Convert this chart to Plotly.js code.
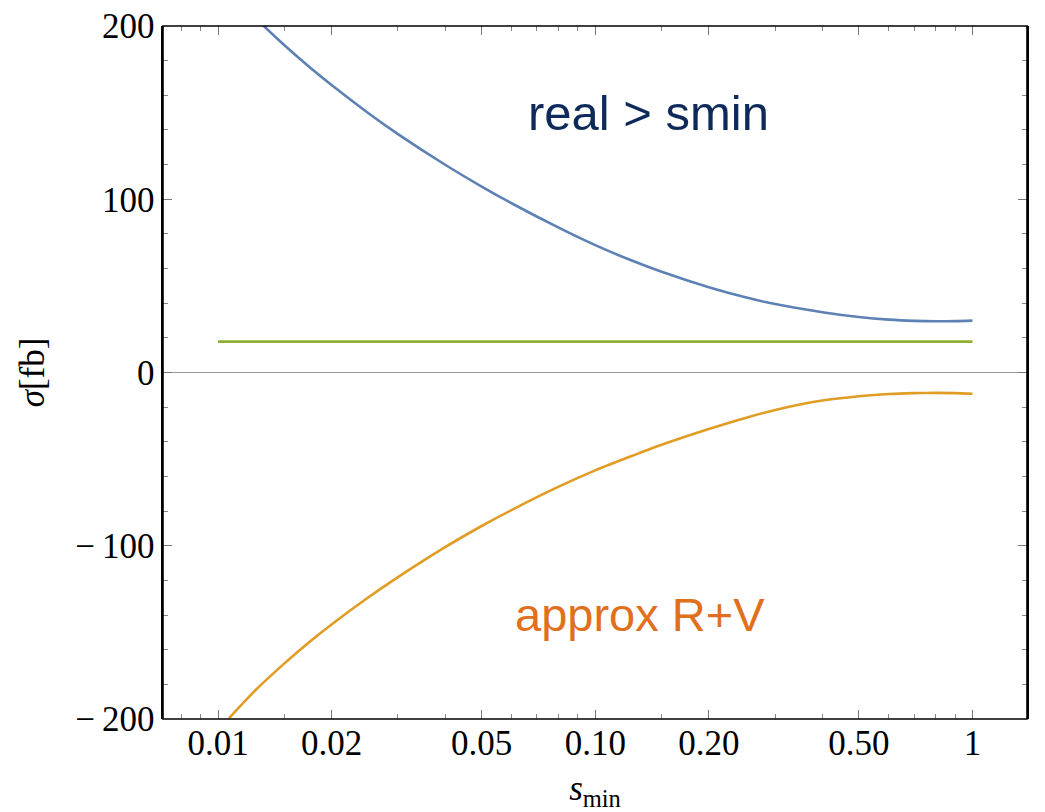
<!DOCTYPE html>
<html>
<head>
<meta charset="utf-8">
<script src="https://cdn.plot.ly/plotly-3.0.1.min.js"></script>
<style>
  html, body { margin: 0; padding: 0; background: #fff; }
  #chart { width: 1045px; height: 812px; }
</style>
</head>
<body>
<div id="chart"></div>
<script>
// Cross sections versus the slicing parameter s_min (log scale)
const sminGrid = [0.0107, 0.0125, 0.015, 0.0175, 0.02, 0.025, 0.03, 0.04, 0.05, 0.06, 0.08, 0.1, 0.125, 0.15, 0.2, 0.25, 0.3, 0.4, 0.5, 0.6, 0.7, 0.8, 0.9, 1.0];

// real emission above s_min (starts where it enters the frame)
const realSmin = [0.0131, 0.015, 0.0175, 0.02, 0.025, 0.03, 0.04, 0.05, 0.06, 0.08, 0.1, 0.125, 0.15, 0.2, 0.25, 0.3, 0.4, 0.5, 0.6, 0.7, 0.8, 0.9, 1.0];
const realSigma = [200.8, 188.9, 176.2, 165.9, 149.8, 137.6, 119.9, 107.3, 97.7, 83.6, 73.5, 64.6, 58.1, 49.2, 43.4, 39.5, 34.8, 32.0, 30.5, 29.8, 29.55, 29.65, 29.95];

// approximate real + virtual below s_min
const approxSigma = [-199.5, -183.9, -167.9, -155.4, -145.4, -129.9, -118.1, -100.8, -88.6, -79.4, -65.9, -56.5, -48.2, -41.7, -32.6, -26.2, -21.6, -16.2, -13.7, -12.4, -11.9, -11.75, -11.9, -12.3];

// sum of the two
const totalSmin = [0.01, 1.0];
const totalSigma = [17.8, 17.8];

const xTickVals = [0.01, 0.02, 0.05, 0.1, 0.2, 0.5, 1];
const xTickText = ['0.01', '0.02', '0.05', '0.10', '0.20', '0.50', '1'];
const xMinorVals = [0.008, 0.009, 0.015, 0.03, 0.04, 0.06, 0.07, 0.08, 0.09, 0.15, 0.3, 0.4, 0.6, 0.7, 0.8, 0.9];
const yTickVals = [-200, -100, 0, 100, 200];
const yTickText = ['\u2212\u2009200', '\u2212\u2009100', '0', '100', '200'];

const serif = '"Liberation Serif", "Times New Roman", serif';
const sans = '"Liberation Sans", Arial, Helvetica, sans-serif';

const traces = [
  { x: totalSmin, y: totalSigma, mode: 'lines', line: { color: '#8fb032', width: 2.6 }, hoverinfo: 'x+y' },
  { x: realSmin, y: realSigma, mode: 'lines', line: { color: '#5e81b5', width: 2.6, shape: 'spline', smoothing: 0.8 }, hoverinfo: 'x+y' },
  { x: sminGrid, y: approxSigma, mode: 'lines', line: { color: '#e19c24', width: 2.6, shape: 'spline', smoothing: 0.8 }, hoverinfo: 'x+y' }
];

const layout = {
  width: 1045, height: 812,
  margin: { l: 163, r: 18, t: 26, b: 93 },
  paper_bgcolor: '#fff', plot_bgcolor: '#fff',
  showlegend: false,
  font: { family: serif, size: 35, color: '#000' },
  xaxis: {
    type: 'log',
    range: [-2.1458, 0.1445],
    tickmode: 'array', tickvals: xTickVals, ticktext: xTickText,
    ticks: 'inside', ticklen: 9, tickwidth: 1, tickcolor: '#777',
    minor: { tickmode: 'array', tickvals: xMinorVals, ticks: 'inside', ticklen: 5, tickwidth: 1, tickcolor: '#888', showgrid: false },
    showline: false, mirror: 'allticks',
    showgrid: false, zeroline: false,
    tickfont: { family: serif, size: 35, color: '#000' },
    title: { text: '<i>s</i><sub>min</sub>', font: { family: serif, size: 35, color: '#000' }, standoff: 27 }
  },
  yaxis: {
    range: [-200, 200],
    tickmode: 'array', tickvals: yTickVals, ticktext: yTickText,
    ticks: 'inside', ticklen: 9, tickwidth: 1, tickcolor: '#777',
    minor: { dtick: 20, ticks: 'inside', ticklen: 5, tickwidth: 1, tickcolor: '#888', showgrid: false },
    showline: true, linecolor: '#000', linewidth: 1.6, mirror: 'allticks',
    showgrid: false,
    zeroline: true, zerolinecolor: '#9a9a9a', zerolinewidth: 1,
    tickfont: { family: serif, size: 35, color: '#000' },
    title: { text: '<i>\u03c3</i>[fb]', font: { family: serif, size: 35, color: '#000' }, standoff: 20 }
  },
  // plot frame
  shapes: [
    { type: 'rect', xref: 'paper', yref: 'paper', x0: 0, x1: 1, y0: 0, y1: 1,
      line: { color: '#000', width: 1.6 }, fillcolor: 'rgba(0,0,0,0)', layer: 'above' }
  ],
  annotations: [
    { x: Math.log10(0.1382), y: 150, xref: 'x', yref: 'y', text: 'real &gt; smin', showarrow: false,
      xanchor: 'center', yanchor: 'middle', font: { family: sans, size: 49, color: '#0e2a5a' } },
    { x: Math.log10(0.1314), y: -139.5, xref: 'x', yref: 'y', text: 'approx R+V', showarrow: false,
      xanchor: 'center', yanchor: 'middle', font: { family: sans, size: 47, color: '#e0701e' } }
  ]
};

Plotly.newPlot('chart', traces, layout, { displayModeBar: false, staticPlot: true });
</script>
</body>
</html>
